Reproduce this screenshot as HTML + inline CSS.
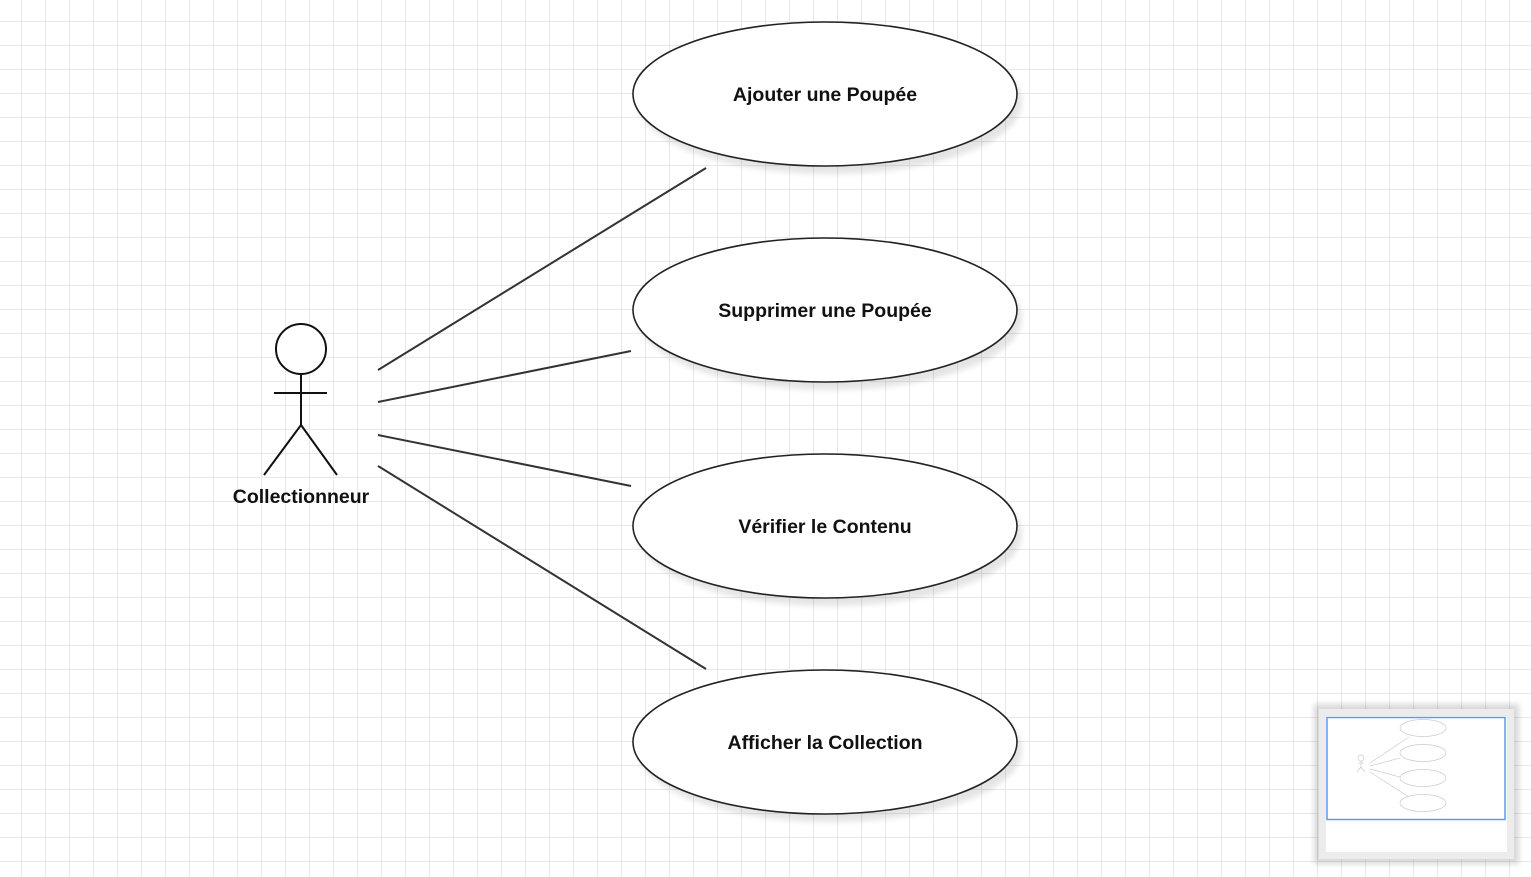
<!DOCTYPE html>
<html><head><meta charset="utf-8"><style>
html,body{margin:0;padding:0;width:1531px;height:877px;overflow:hidden;background:#fff;}
body{background-image:linear-gradient(to right,#e8e8e8 0,#e8e8e8 1px,transparent 1px),linear-gradient(to bottom,#e8e8e8 0,#e8e8e8 1px,transparent 1px);background-size:24px 24px;background-position:21px 21px;}
svg{position:absolute;left:0;top:0;}
text{font-family:"Liberation Sans",sans-serif;font-weight:bold;font-size:19.5px;fill:#111;}
</style></head><body>
<svg width="1531" height="877" xmlns="http://www.w3.org/2000/svg">
<defs><filter id="b" x="-10%" y="-20%" width="120%" height="140%"><feGaussianBlur stdDeviation="3"/></filter></defs>
<g stroke="#333" stroke-width="2" fill="none">
<line x1="378" y1="370" x2="706" y2="168"/>
<line x1="378" y1="402" x2="631" y2="351"/>
<line x1="378" y1="435" x2="631" y2="486"/>
<line x1="378" y1="466" x2="706" y2="669"/>
</g>
<g>
<ellipse cx="830" cy="102" rx="192" ry="72" fill="#000" opacity="0.1" filter="url(#b)"/>
<ellipse cx="830" cy="318" rx="192" ry="72" fill="#000" opacity="0.1" filter="url(#b)"/>
<ellipse cx="830" cy="534" rx="192" ry="72" fill="#000" opacity="0.1" filter="url(#b)"/>
<ellipse cx="830" cy="750" rx="192" ry="72" fill="#000" opacity="0.1" filter="url(#b)"/>
</g>
<g fill="#fff" stroke="#222" stroke-width="1.6">
<ellipse cx="825" cy="94" rx="192" ry="72"/>
<ellipse cx="825" cy="310" rx="192" ry="72"/>
<ellipse cx="825" cy="526" rx="192" ry="72"/>
<ellipse cx="825" cy="742" rx="192" ry="72"/>
</g>
<g text-anchor="middle">
<text x="825" y="101">Ajouter une Poupée</text>
<text x="825" y="317">Supprimer une Poupée</text>
<text x="825" y="533">Vérifier le Contenu</text>
<text x="825" y="749">Afficher la Collection</text>
<text x="301" y="503">Collectionneur</text>
</g>
<g stroke="#111" stroke-width="2" fill="none">
<circle cx="301" cy="349" r="25" fill="#fff"/>
<line x1="301" y1="374" x2="301" y2="425"/>
<line x1="274" y1="393" x2="327" y2="393"/>
<line x1="301" y1="425" x2="264" y2="475"/>
<line x1="301" y1="425" x2="337" y2="475"/>
</g>
<rect x="1314" y="704" width="205" height="160" fill="#000" opacity="0.15" filter="url(#b)"/>
<rect x="1319" y="709" width="195" height="150" fill="#ececec"/>
<rect x="1326" y="716" width="181" height="136" fill="#fff"/>
<g stroke="#ccc" stroke-width="0.7" fill="#fff">
<line x1="1370" y1="763" x2="1409" y2="737"/>
<line x1="1370" y1="766" x2="1400" y2="758"/>
<line x1="1370" y1="769" x2="1400" y2="777"/>
<line x1="1370" y1="772" x2="1409" y2="797"/>
<ellipse cx="1423" cy="728" rx="23" ry="8.5"/>
<ellipse cx="1423" cy="753" rx="23" ry="8.5"/>
<ellipse cx="1423" cy="778" rx="23" ry="8.5"/>
<ellipse cx="1423" cy="803" rx="23" ry="8.5"/>
<circle cx="1361" cy="758" r="3"/>
<line x1="1361" y1="761" x2="1361" y2="767"/>
<line x1="1358" y1="763" x2="1364" y2="763"/>
<line x1="1361" y1="767" x2="1357" y2="772"/>
<line x1="1361" y1="767" x2="1365" y2="772"/>
</g>
<rect x="1327" y="717.5" width="178" height="102" fill="none" stroke="#5b9bf0" stroke-width="1.5"/>
</svg>
</body></html>
